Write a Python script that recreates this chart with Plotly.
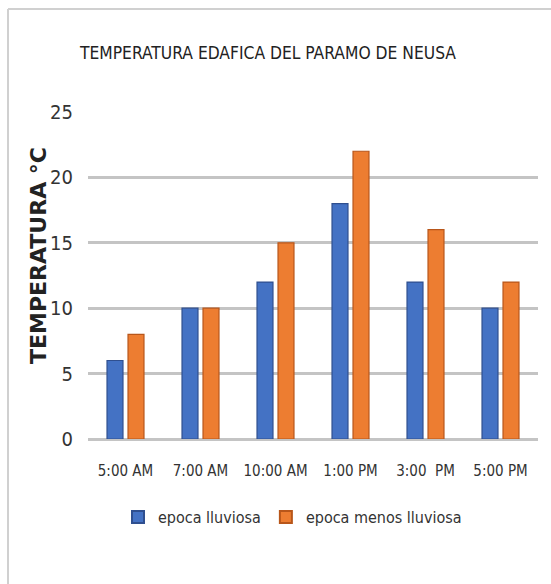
import plotly.graph_objects as go

horas = ["5:00 AM", "7:00 AM", "10:00 AM", "1:00 PM", "3:00  PM", "5:00 PM"]
epoca_lluviosa = [6, 10, 12, 18, 12, 10]
epoca_menos_lluviosa = [8, 10, 15, 22, 16, 12]
y_ticks = [0, 5, 10, 15, 20, 25]

narrow = "Liberation Sans Narrow, DejaVu Sans Condensed, Arial Narrow, sans-serif"

fig = go.Figure()
fig.add_trace(go.Bar(
    x=horas, y=epoca_lluviosa, name="epoca lluviosa",
    marker=dict(color="#4472C4", line=dict(color="#2F4F8F", width=1.2)),
))
fig.add_trace(go.Bar(
    x=horas, y=epoca_menos_lluviosa, name="epoca menos lluviosa",
    marker=dict(color="#ED7D31", line=dict(color="#B8561A", width=1.2)),
))

L, R, T, B = 88, 13, 112, 145
W, H = 551, 584
pw, ph = W - L - R, H - T - B


def px(x):
    return (x - L) / pw


def py(y):
    return (H - B - y) / ph


fig.update_layout(
    width=W, height=H,
    margin=dict(l=L, r=R, t=T, b=B),
    paper_bgcolor="white", plot_bgcolor="white",
    barmode="group", bargap=0.44, bargroupgap=0.24,
    title=dict(
        text="TEMPERATURA EDAFICA DEL PARAMO DE NEUSA",
        font=dict(family=narrow, size=17.3, color="#222222"),
        x=px(268), xanchor="center", xref="paper",
        y=1 - 53 / H, yanchor="middle",
    ),
    xaxis=dict(
        showgrid=False, showline=False, ticks="",
        tickfont=dict(family=narrow, size=15, color="#333333"),
        ticklabelstandoff=21,
    ),
    yaxis=dict(
        range=[0, 25], tickvals=y_ticks,
        showgrid=True, gridcolor="#C4C4C4", gridwidth=2.5,
        zeroline=True, zerolinecolor="#C4C4C4", zerolinewidth=2.5,
        showline=False, ticks="",
        tickfont=dict(family=narrow, size=20, color="#333333"),
        ticklabelstandoff=14,
    ),
    legend=dict(
        orientation="h", x=px(118), xanchor="left",
        y=py(517), yanchor="middle",
        font=dict(family=narrow, size=16, color="#333333"),
        itemwidth=30, itemsizing="constant", tracegroupgap=0,
    ),
    showlegend=True,
    annotations=[
        dict(
            text="TEMPERATURA °C", textangle=-90,
            xref="paper", yref="paper", x=px(38), y=py(256),
            xanchor="center", yanchor="middle", showarrow=False,
            font=dict(family="DejaVu Sans, sans-serif", size=22, color="#222222", weight="bold"),
        )
    ],
    shapes=[
        dict(type="line", xref="paper", yref="paper",
             x0=px(8), x1=px(W + 5), y0=py(9), y1=py(9),
             line=dict(color="#D0D0D0", width=2)),
        dict(type="line", xref="paper", yref="paper",
             x0=px(8), x1=px(8), y0=py(9), y1=py(H + 5),
             line=dict(color="#D0D0D0", width=2)),
    ],
)

fig.write_html("out.html")
